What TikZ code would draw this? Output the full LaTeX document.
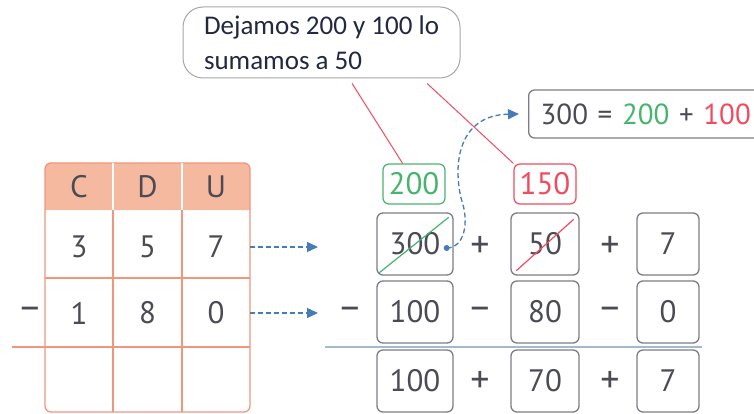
\documentclass[tikz,border=0pt]{standalone}
\usepackage{fontspec}
\setmainfont{PT Sans}
\newfontfamily\bubblefont{Carlito}
\usetikzlibrary{arrows.meta,calc}
\definecolor{tabline}{RGB}{240,150,125}
\definecolor{tabhead}{RGB}{245,185,160}
\definecolor{boxgray}{RGB}{125,125,135}
\definecolor{numgreen}{RGB}{70,180,110}
\definecolor{numred}{RGB}{240,75,95}
\definecolor{dashblue}{RGB}{70,125,185}
\definecolor{rulegray}{RGB}{165,185,205}
\definecolor{numtext}{RGB}{75,75,85}
\definecolor{bubtext}{RGB}{35,40,65}
\tikzset{
  cell/.style={minimum width=68pt, minimum height=66pt, inner sep=0pt, text=numtext},
  numbox/.style={draw=boxgray, line width=1.3pt, rounded corners=6pt, minimum height=62pt, inner sep=0pt, text=numtext},
  tagbox/.style={draw=#1, line width=1.2pt, rounded corners=6pt, minimum width=62pt, minimum height=40pt, inner sep=0pt, text=#1},
  sign/.style={text=numtext, font=\fontsize{38}{40}\selectfont},
  dasharrow/.style={dashblue, line width=1.3pt, dash pattern=on 5pt off 3pt, -{Triangle[length=11pt,width=10pt]}},
}
\begin{document}
\begin{tikzpicture}[x=1pt, y=1pt, font=\fontsize{31}{34}\selectfont]
\clip (0,0) rectangle (754,413);

\fill[tabhead] (45,203) [rounded corners=6pt]-- (45,250) -- (250,250) [sharp corners]-- (250,203) -- cycle;
\draw[tabline, line width=1.3pt, rounded corners=6pt] (45,1) rectangle (250,250);
\draw[white, line width=1.3pt] (113,203) -- (113,250) (182,203) -- (182,250);
\draw[tabline, line width=1.3pt] (113,1) -- (113,203) (182,1) -- (182,203);
\draw[tabline, line width=1.3pt] (45,135) -- (250,135);
\draw[tabline, line width=1.3pt] (12,66) -- (250,66);

\node[cell] (hc) at (79,226.5) {C};
\node[cell] (hd) at (147.5,226.5) {D};
\node[cell] (hu) at (216,226.5) {U};
\node[cell] (c1) at (79,166) {3};
\node[cell] (d1) at (147.5,166) {5};
\node[cell] (u1) at (216,166) {7};
\node[cell] (c2) at (79,100) {1};
\node[cell] (d2) at (147.5,100) {8};
\node[cell] (u2) at (216,100) {0};
\node[sign] (m0) at (30,100) {–};

\coordinate (a1) at (318,166);
\coordinate (a2) at (318,100);
\draw[dasharrow] (u1.east) -- (a1);
\draw[dasharrow] (u2.east) -- (a2);

\node[numbox, minimum width=76pt] (h1) at (415,169) {300};
\node[numbox, minimum width=68pt] (t1) at (545,169) {50};
\node[numbox, minimum width=62pt] (o1) at (668,169) {7};
\node[sign] (p11) at (480,166) {+};
\node[sign] (p12) at (610,166) {+};

\node[numbox, minimum width=76pt] (h2) at (415,101) {100};
\node[numbox, minimum width=68pt] (t2) at (545,101) {80};
\node[numbox, minimum width=62pt] (o2) at (668,101) {0};
\node[sign] (m20) at (350,100) {–};
\node[sign] (m21) at (480,100) {–};
\node[sign] (m22) at (610,100) {–};

\draw[rulegray, line width=1.3pt] (325,66) -- (702,66);

\node[numbox, minimum width=76pt] (h3) at (415,32) {100};
\node[numbox, minimum width=68pt] (t3) at (545,32) {70};
\node[numbox, minimum width=62pt] (o3) at (668,32) {7};
\node[sign] (p31) at (480,31) {+};
\node[sign] (p32) at (610,31) {+};

\node[tagbox=numgreen] (g200) at (414,229) {200};
\node[tagbox=numred] (r150) at (545,229) {150};

\draw[numgreen, line width=1.2pt] ($(h1.south west)+(3,3)$) -- ($(h1.north east)+(-5,-5)$);
\draw[numred, line width=1.2pt] ($(t1.south west)+(6,5)$) -- ($(t1.north east)+(-6,-7)$);

\node[draw=boxgray, line width=1.3pt, rounded corners=6pt, anchor=west, minimum height=48pt,
      inner xsep=12pt, text width=230pt, text=numtext, font=\fontsize{29}{32}\selectfont] (eq) at (528,299)
      {300 = \textcolor{numgreen}{200} + \textcolor{numred}{100}};

\coordinate (dot) at ($(h1.east)+(-7,-4)$);
\fill[dashblue] (dot) circle (3pt);
\draw[dasharrow] (dot) .. controls (464,165) and (470,190) .. (461,215)
  .. controls (452,255) and (462,298) .. ($(eq.west)+(-9,0)$);

\node[draw=gray!70, line width=1pt, rounded corners=20pt, minimum width=277pt, minimum height=71pt,
      align=left, text=bubtext, font=\bubblefont\fontsize{27}{35}\selectfont] (bubble) at (321.5,370.5)
      {Dejamos 200 y 100 lo\\sumamos a 50};

\draw[numred, line width=1pt] ($(bubble.south west)!0.61!(bubble.south east)+(0,-5)$) -- ($(g200.north west)!0.32!(g200.north east)$);
\draw[numred, line width=1pt] ($(bubble.south west)!0.88!(bubble.south east)+(0,-5)$) -- (r150.north west);
\end{tikzpicture}
\end{document}
